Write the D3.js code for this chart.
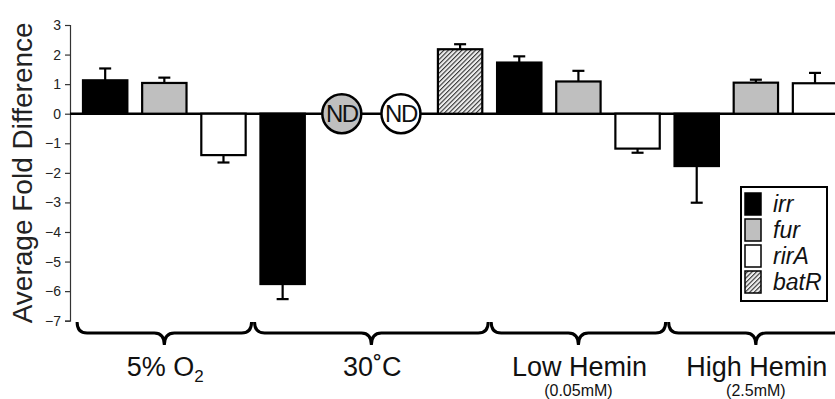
<!DOCTYPE html>
<html>
<head>
<meta charset="utf-8">
<script src="https://cdn.jsdelivr.net/npm/d3@7"></script>
<style>
  body { margin: 0; background: #fff; }
  svg { display: block; font-family: Arial, "Liberation Sans", sans-serif; }
</style>
</head>
<body>
<div id="chart"></div>
<script>
// data
const conditions = ["5% O", "30˚C", "Low Hemin", "High Hemin"];
const conditionSub = ["", "", "(0.05mM)", "(2.5mM)"];
const genes = ["irr", "fur", "rirA", "batR"];
const barCondition = [0, 0, 0, 1, 1, 1, 1, 2, 2, 2, 3, 3, 3];
const barGene = ["irr", "fur", "rirA", "irr", "fur", "rirA", "batR", "irr", "fur", "rirA", "irr", "fur", "rirA"];
const barValue = [1.13, 1.04, -1.4, -5.76, null, null, 2.18, 1.73, 1.09, -1.18, -1.77, 1.05, 1.03];
const barError = [0.4, 0.18, 0.25, 0.51, null, null, 0.17, 0.21, 0.36, 0.14, 1.24, 0.1, 0.35];
const yTicks = [3, 2, 1, 0, -1, -2, -3, -4, -5, -6, -7];

const W = 835, H = 399;
const fills = { irr: "#000", fur: "#bfbfbf", rirA: "#fff", batR: "url(#hatch)" };

const svg = d3.select("#chart").append("svg")
    .attr("width", W).attr("height", H);

// hatch pattern for batR
const pat = svg.append("defs").append("pattern")
    .attr("id", "hatch")
    .attr("patternUnits", "userSpaceOnUse")
    .attr("width", 3.2).attr("height", 3.2)
    .attr("patternTransform", "rotate(45)");
pat.append("rect").attr("width", 3.2).attr("height", 3.2).attr("fill", "#eee");
pat.append("line").attr("x1", 0).attr("y1", 0).attr("x2", 0).attr("y2", 3.2)
    .attr("stroke", "#333").attr("stroke-width", 2.2);

// scales
const x = d3.scaleBand()
    .domain(d3.range(barValue.length))
    .range([75.6, 844.6])
    .paddingInner(0.25)
    .paddingOuter(0.125);

const y = d3.scaleLinear().domain([-7, 3]).range([320.7, 25]);

// y axis
const yAxis = svg.append("g")
    .attr("transform", "translate(70,0)")
    .call(d3.axisLeft(y).tickValues(yTicks).tickSize(5).tickPadding(4));
yAxis.select(".domain").attr("stroke", "#333").attr("stroke-width", 1.2);
yAxis.selectAll(".tick line").attr("stroke", "#333").attr("stroke-width", 1.2);
yAxis.selectAll(".tick text")
    .attr("font-size", 14).attr("fill", "#222");

svg.append("text")
    .attr("transform", `translate(32,${(y(3) + y(-7)) / 2}) rotate(-90)`)
    .attr("text-anchor", "middle")
    .attr("font-size", 28)
    .attr("fill", "#222")
    .text("Average Fold Difference");

// zero line
svg.append("line")
    .attr("x1", 70).attr("x2", W)
    .attr("y1", y(0)).attr("y2", y(0))
    .attr("stroke", "#000").attr("stroke-width", 2.5);

const idx = d3.range(barValue.length);
const bars = idx.filter(i => barValue[i] !== null);
const nd = idx.filter(i => barValue[i] === null);

// error bars
const capW = 12;
bars.forEach(i => {
    const v = barValue[i], e = barError[i];
    const cx = x(i) + x.bandwidth() / 2;
    const end = v >= 0 ? v + e : v - e;
    const g = svg.append("g").attr("stroke", "#000").attr("stroke-width", 2.2);
    g.append("line").attr("x1", cx).attr("x2", cx).attr("y1", y(v)).attr("y2", y(end));
    g.append("line").attr("x1", cx - capW / 2).attr("x2", cx + capW / 2)
        .attr("y1", y(end)).attr("y2", y(end));
});

// bars
svg.selectAll("rect.bar")
    .data(bars)
    .enter()
    .append("rect")
    .attr("class", "bar")
    .attr("x", i => x(i))
    .attr("width", x.bandwidth())
    .attr("y", i => y(Math.max(0, barValue[i])))
    .attr("height", i => Math.abs(y(barValue[i]) - y(0)))
    .attr("fill", i => fills[barGene[i]])
    .attr("stroke", "#000")
    .attr("stroke-width", 2.2);

// not determined markers
const ndG = svg.selectAll("g.nd")
    .data(nd)
    .enter()
    .append("g")
    .attr("class", "nd")
    .attr("transform", i => `translate(${x(i) + x.bandwidth() / 2},${y(0)})`);
ndG.append("circle")
    .attr("r", 19.5)
    .attr("fill", i => fills[barGene[i]])
    .attr("stroke", "#000")
    .attr("stroke-width", 2.5);
ndG.append("text")
    .attr("text-anchor", "middle")
    .attr("dy", "0.36em")
    .attr("font-size", 24)
    .attr("letter-spacing", -1.5)
    .attr("fill", "#111")
    .text("ND");

// group braces and labels
const step = x.step();
conditions.forEach((c, k) => {
    const members = idx.filter(i => barCondition[i] === k);
    const x0 = x(members[0]) - step * 0.125 + 1.5;
    const x1 = x(members[members.length - 1]) + x.bandwidth() + step * 0.125 - 1.5;
    const xm = (x0 + x1) / 2;
    const y0 = 322, y1 = 333, y2 = 345, r = 10;
    const p = d3.path();
    p.moveTo(x0, y0);
    p.quadraticCurveTo(x0, y1, x0 + r, y1);
    p.lineTo(xm - r, y1);
    p.quadraticCurveTo(xm, y1, xm, y2);
    p.quadraticCurveTo(xm, y1, xm + r, y1);
    p.lineTo(x1 - r, y1);
    p.quadraticCurveTo(x1, y1, x1, y0);
    svg.append("path")
        .attr("d", p.toString())
        .attr("fill", "none")
        .attr("stroke", "#000")
        .attr("stroke-width", 3);

    const t = svg.append("text")
        .attr("x", xm + 1)
        .attr("y", 376)
        .attr("text-anchor", "middle")
        .attr("font-size", 27)
        .attr("fill", "#111")
        .text(c);
    if (k === 0) {
        t.append("tspan").attr("font-size", 17).attr("dy", 6).text("2");
    }
    if (conditionSub[k]) {
        svg.append("text")
            .attr("x", xm)
            .attr("y", 396)
            .attr("text-anchor", "middle")
            .attr("font-size", 16)
            .attr("fill", "#111")
            .text(conditionSub[k]);
    }
});

// legend
const leg = svg.append("g").attr("transform", "translate(741,187)");
leg.append("rect")
    .attr("width", 86).attr("height", 114)
    .attr("fill", "#fff").attr("stroke", "#000").attr("stroke-width", 2);
genes.forEach((gname, k) => {
    leg.append("rect")
        .attr("x", 4).attr("y", 6 + k * 26)
        .attr("width", 16).attr("height", 22)
        .attr("fill", fills[gname])
        .attr("stroke", "#000").attr("stroke-width", 1.5);
    leg.append("text")
        .attr("x", 32).attr("y", 6 + k * 26 + 19)
        .attr("font-size", 23)
        .attr("font-style", "italic")
        .attr("fill", "#111")
        .text(gname);
});
</script>
</body>
</html>
